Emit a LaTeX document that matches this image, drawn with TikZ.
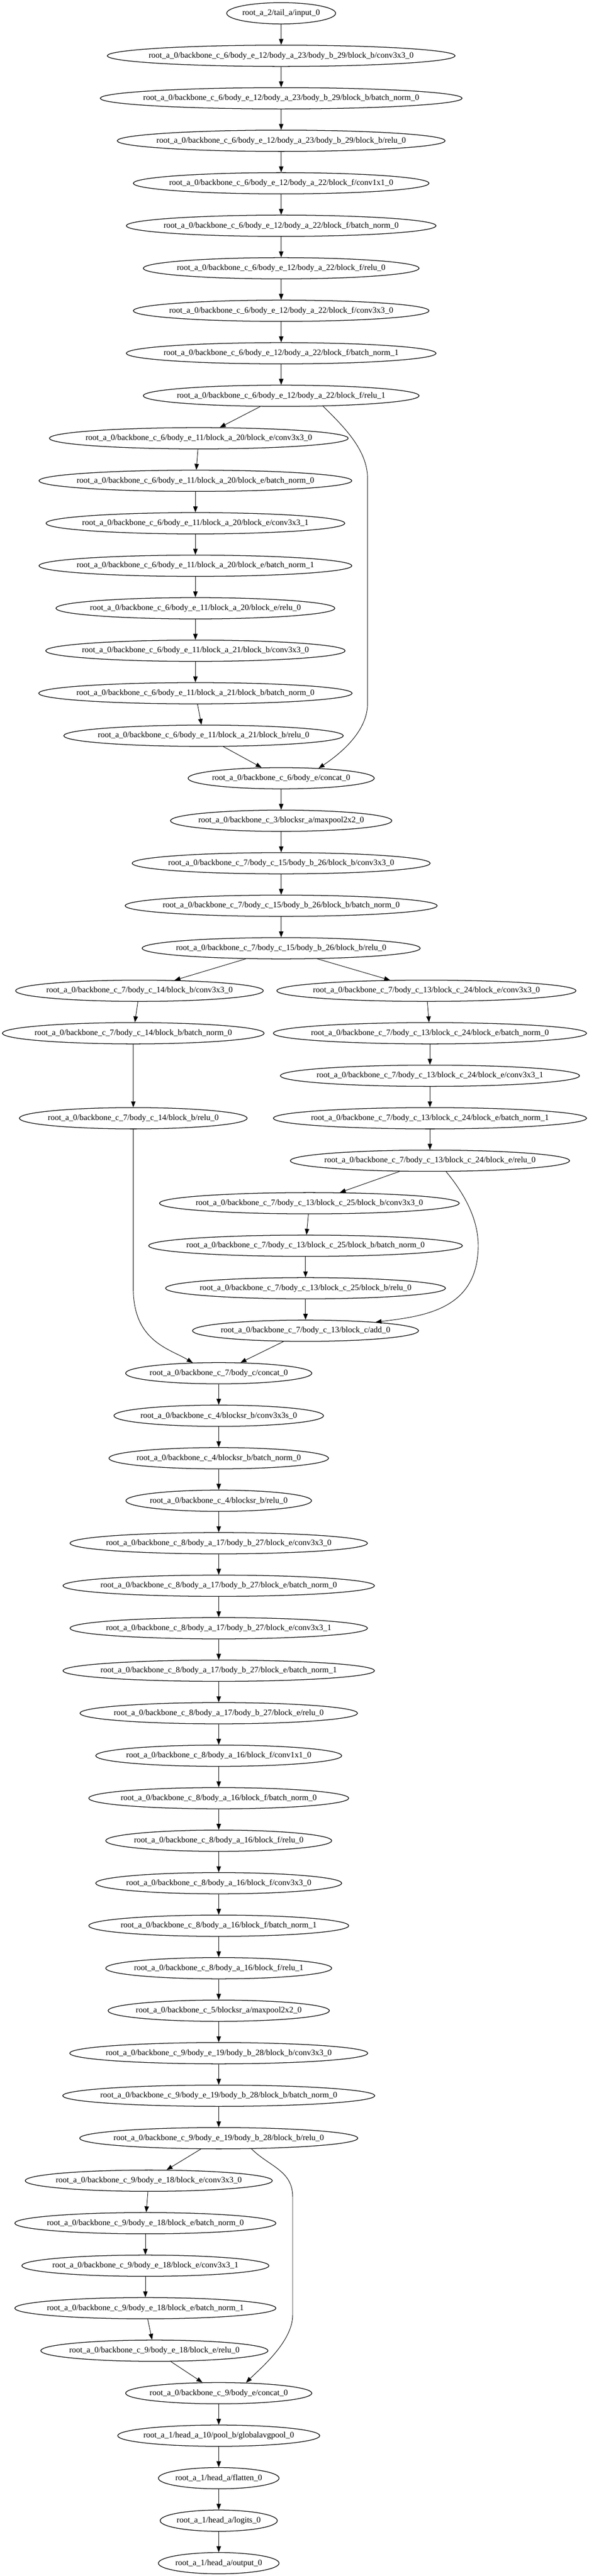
\documentclass[tikz,border=0pt]{standalone}
\usepackage{fontspec}
\setmainfont{Liberation Serif}
\usetikzlibrary{shapes.geometric,arrows.meta,positioning}
\newcommand{\opfont}{\fontsize{14pt}{16.8pt}\selectfont}
% ellipse as wide as graphviz makes it for the label
\newcommand{\opnode}[3][]{%
  \node (#2) [op,#1] {\makebox[0.9016\width]{#3}};}
\begin{document}
\begin{tikzpicture}[node distance=72pt,>={Triangle[length=10pt,width=7.5pt]},line width=0.8pt]
	\tikzstyle{op} = [draw,ellipse,font=\opfont,minimum height=36pt,inner xsep=6pt,line width=1.1pt]
	\useasboundingbox (0,0) rectangle (997.5pt,-4364.25pt);
	\opnode[at={(476.25pt,-22.5pt)}]{input}{root\_a\_2/tail\_a/input\_0}
	\opnode[below of=input]{bConv}{root\_a\_0/backbone\_c\_6/body\_e\_12/body\_a\_23/body\_b\_29/block\_b/conv3x3\_0}
	\opnode[below of=bConv]{bBn}{root\_a\_0/backbone\_c\_6/body\_e\_12/body\_a\_23/body\_b\_29/block\_b/batch\_norm\_0}
	\opnode[below of=bBn]{bRelu}{root\_a\_0/backbone\_c\_6/body\_e\_12/body\_a\_23/body\_b\_29/block\_b/relu\_0}
	\opnode[below of=bRelu]{fConv1}{root\_a\_0/backbone\_c\_6/body\_e\_12/body\_a\_22/block\_f/conv1x1\_0}
	\opnode[below of=fConv1]{fBn0}{root\_a\_0/backbone\_c\_6/body\_e\_12/body\_a\_22/block\_f/batch\_norm\_0}
	\opnode[below of=fBn0]{fRelu0}{root\_a\_0/backbone\_c\_6/body\_e\_12/body\_a\_22/block\_f/relu\_0}
	\opnode[below of=fRelu0]{fConv3}{root\_a\_0/backbone\_c\_6/body\_e\_12/body\_a\_22/block\_f/conv3x3\_0}
	\opnode[below of=fConv3]{fBn1}{root\_a\_0/backbone\_c\_6/body\_e\_12/body\_a\_22/block\_f/batch\_norm\_1}
	\opnode[below of=fBn1]{fRelu1}{root\_a\_0/backbone\_c\_6/body\_e\_12/body\_a\_22/block\_f/relu\_1}
	\opnode[below of=fRelu1,xshift=-139.5pt]{eConv0}{root\_a\_0/backbone\_c\_6/body\_e\_11/block\_a\_20/block\_e/conv3x3\_0}
	\opnode[below of=eConv0,xshift=-5.75pt]{eBn0}{root\_a\_0/backbone\_c\_6/body\_e\_11/block\_a\_20/block\_e/batch\_norm\_0}
	\opnode[below of=eBn0]{eConv1}{root\_a\_0/backbone\_c\_6/body\_e\_11/block\_a\_20/block\_e/conv3x3\_1}
	\opnode[below of=eConv1]{eBn1}{root\_a\_0/backbone\_c\_6/body\_e\_11/block\_a\_20/block\_e/batch\_norm\_1}
	\opnode[below of=eBn1]{eRelu}{root\_a\_0/backbone\_c\_6/body\_e\_11/block\_a\_20/block\_e/relu\_0}
	\opnode[below of=eRelu]{kConv}{root\_a\_0/backbone\_c\_6/body\_e\_11/block\_a\_21/block\_b/conv3x3\_0}
	\opnode[below of=kConv]{kBn}{root\_a\_0/backbone\_c\_6/body\_e\_11/block\_a\_21/block\_b/batch\_norm\_0}
	\opnode[below of=kBn,xshift=13.75pt]{kRelu}{root\_a\_0/backbone\_c\_6/body\_e\_11/block\_a\_21/block\_b/relu\_0}
	\opnode[below of=kRelu,xshift=131.5pt]{eConcat}{root\_a\_0/backbone\_c\_6/body\_e/concat\_0}
	\opnode[below of=eConcat]{poolA}{root\_a\_0/backbone\_c\_3/blocksr\_a/maxpool2x2\_0}
	\opnode[below of=poolA]{sConv}{root\_a\_0/backbone\_c\_7/body\_c\_15/body\_b\_26/block\_b/conv3x3\_0}
	\opnode[below of=sConv]{sBn}{root\_a\_0/backbone\_c\_7/body\_c\_15/body\_b\_26/block\_b/batch\_norm\_0}
	\opnode[below of=sBn]{sRelu}{root\_a\_0/backbone\_c\_7/body\_c\_15/body\_b\_26/block\_b/relu\_0}
	\opnode[below of=sRelu,xshift=-240pt]{lConv}{root\_a\_0/backbone\_c\_7/body\_c\_14/block\_b/conv3x3\_0}
	\opnode[below of=lConv,xshift=-10.5pt]{lBn}{root\_a\_0/backbone\_c\_7/body\_c\_14/block\_b/batch\_norm\_0}
	\opnode[below of=lBn,node distance=144pt]{lRelu}{root\_a\_0/backbone\_c\_7/body\_c\_14/block\_b/relu\_0}
	\opnode[below of=sRelu,xshift=246pt]{rConv0}{root\_a\_0/backbone\_c\_7/body\_c\_13/block\_c\_24/block\_e/conv3x3\_0}
	\opnode[below of=rConv0,xshift=6pt]{rBn0}{root\_a\_0/backbone\_c\_7/body\_c\_13/block\_c\_24/block\_e/batch\_norm\_0}
	\opnode[below of=rBn0]{rConv1}{root\_a\_0/backbone\_c\_7/body\_c\_13/block\_c\_24/block\_e/conv3x3\_1}
	\opnode[below of=rConv1]{rBn1}{root\_a\_0/backbone\_c\_7/body\_c\_13/block\_c\_24/block\_e/batch\_norm\_1}
	\opnode[below of=rBn1]{rRelu}{root\_a\_0/backbone\_c\_7/body\_c\_13/block\_c\_24/block\_e/relu\_0}
	\opnode[below of=rRelu,xshift=-204.25pt]{qConv}{root\_a\_0/backbone\_c\_7/body\_c\_13/block\_c\_25/block\_b/conv3x3\_0}
	\opnode[below of=qConv,xshift=-6.5pt]{qBn}{root\_a\_0/backbone\_c\_7/body\_c\_13/block\_c\_25/block\_b/batch\_norm\_0}
	\opnode[below of=qBn]{qRelu}{root\_a\_0/backbone\_c\_7/body\_c\_13/block\_c\_25/block\_b/relu\_0}
	\opnode[below of=qRelu]{addC}{root\_a\_0/backbone\_c\_7/body\_c\_13/block\_c/add\_0}
	\opnode[below of=addC,xshift=-147pt]{cConcat}{root\_a\_0/backbone\_c\_7/body\_c/concat\_0}
	\opnode[below of=cConcat]{srConv}{root\_a\_0/backbone\_c\_4/blocksr\_b/conv3x3s\_0}
	\opnode[below of=srConv]{srBn}{root\_a\_0/backbone\_c\_4/blocksr\_b/batch\_norm\_0}
	\opnode[below of=srBn]{srRelu}{root\_a\_0/backbone\_c\_4/blocksr\_b/relu\_0}
	\opnode[below of=srRelu]{gConv0}{root\_a\_0/backbone\_c\_8/body\_a\_17/body\_b\_27/block\_e/conv3x3\_0}
	\opnode[below of=gConv0]{gBn0}{root\_a\_0/backbone\_c\_8/body\_a\_17/body\_b\_27/block\_e/batch\_norm\_0}
	\opnode[below of=gBn0]{gConv1}{root\_a\_0/backbone\_c\_8/body\_a\_17/body\_b\_27/block\_e/conv3x3\_1}
	\opnode[below of=gConv1]{gBn1}{root\_a\_0/backbone\_c\_8/body\_a\_17/body\_b\_27/block\_e/batch\_norm\_1}
	\opnode[below of=gBn1]{gRelu}{root\_a\_0/backbone\_c\_8/body\_a\_17/body\_b\_27/block\_e/relu\_0}
	\opnode[below of=gRelu]{hConv1}{root\_a\_0/backbone\_c\_8/body\_a\_16/block\_f/conv1x1\_0}
	\opnode[below of=hConv1]{hBn0}{root\_a\_0/backbone\_c\_8/body\_a\_16/block\_f/batch\_norm\_0}
	\opnode[below of=hBn0]{hRelu0}{root\_a\_0/backbone\_c\_8/body\_a\_16/block\_f/relu\_0}
	\opnode[below of=hRelu0]{hConv3}{root\_a\_0/backbone\_c\_8/body\_a\_16/block\_f/conv3x3\_0}
	\opnode[below of=hConv3]{hBn1}{root\_a\_0/backbone\_c\_8/body\_a\_16/block\_f/batch\_norm\_1}
	\opnode[below of=hBn1]{hRelu1}{root\_a\_0/backbone\_c\_8/body\_a\_16/block\_f/relu\_1}
	\opnode[below of=hRelu1]{poolB}{root\_a\_0/backbone\_c\_5/blocksr\_a/maxpool2x2\_0}
	\opnode[below of=poolB]{dConv}{root\_a\_0/backbone\_c\_9/body\_e\_19/body\_b\_28/block\_b/conv3x3\_0}
	\opnode[below of=dConv]{dBn}{root\_a\_0/backbone\_c\_9/body\_e\_19/body\_b\_28/block\_b/batch\_norm\_0}
	\opnode[below of=dBn]{dRelu}{root\_a\_0/backbone\_c\_9/body\_e\_19/body\_b\_28/block\_b/relu\_0}
	\opnode[below of=dRelu,xshift=-118.5pt]{tConv0}{root\_a\_0/backbone\_c\_9/body\_e\_18/block\_e/conv3x3\_0}
	\opnode[below of=tConv0,xshift=-5.75pt]{tBn0}{root\_a\_0/backbone\_c\_9/body\_e\_18/block\_e/batch\_norm\_0}
	\opnode[below of=tBn0]{tConv1}{root\_a\_0/backbone\_c\_9/body\_e\_18/block\_e/conv3x3\_1}
	\opnode[below of=tConv1]{tBn1}{root\_a\_0/backbone\_c\_9/body\_e\_18/block\_e/batch\_norm\_1}
	\opnode[below of=tBn1,xshift=15.25pt]{tRelu}{root\_a\_0/backbone\_c\_9/body\_e\_18/block\_e/relu\_0}
	\opnode[below of=tRelu,xshift=109pt]{dConcat}{root\_a\_0/backbone\_c\_9/body\_e/concat\_0}
	\opnode[below of=dConcat]{gap}{root\_a\_1/head\_a\_10/pool\_b/globalavgpool\_0}
	\opnode[below of=gap]{flatten}{root\_a\_1/head\_a/flatten\_0}
	\opnode[below of=flatten]{logits}{root\_a\_1/head\_a/logits\_0}
	\opnode[below of=logits]{output}{root\_a\_1/head\_a/output\_0}

	% bends of the skip connections
	\coordinate (skipA1) at (622.5pt,-810pt);
	\coordinate (skipA2) at (622.5pt,-1192.5pt);
	\coordinate (skipL) at (225.75pt,-2182.5pt);
	\coordinate (skipC) at (810pt,-2110pt);
	\coordinate (skipD1) at (495.75pt,-3722pt);
	\coordinate (skipD2) at (495.75pt,-3922pt);

	\draw[->] (input) -- (bConv);
	\draw[->] (bConv) -- (bBn);
	\draw[->] (bBn) -- (bRelu);
	\draw[->] (bRelu) -- (fConv1);
	\draw[->] (fConv1) -- (fBn0);
	\draw[->] (fBn0) -- (fRelu0);
	\draw[->] (fRelu0) -- (fConv3);
	\draw[->] (fConv3) -- (fBn1);
	\draw[->] (fBn1) -- (fRelu1);
	\draw[->] (fRelu1) -- (eConv0);
	\draw[->] (fRelu1.-14) .. controls +(30pt,-30pt) and +(0,50pt) .. (skipA1) -- (skipA2) .. controls +(0,-50pt) and +(30pt,20pt) .. (eConcat.15);
	\draw[->] (eConv0) -- (eBn0);
	\draw[->] (eBn0) -- (eConv1);
	\draw[->] (eConv1) -- (eBn1);
	\draw[->] (eBn1) -- (eRelu);
	\draw[->] (eRelu) -- (kConv);
	\draw[->] (kConv) -- (kBn);
	\draw[->] (kBn) -- (kRelu);
	\draw[->] (kRelu) -- (eConcat);
	\draw[->] (eConcat) -- (poolA);
	\draw[->] (poolA) -- (sConv);
	\draw[->] (sConv) -- (sBn);
	\draw[->] (sBn) -- (sRelu);
	\draw[->] (sRelu) -- (lConv);
	\draw[->] (sRelu) -- (rConv0);
	\draw[->] (lConv) -- (lBn);
	\draw[->] (lBn) -- (lRelu);
	\draw[->] (lRelu) -- (skipL) .. controls +(0,-90pt) and +(-40pt,24pt) .. (cConcat.158);
	\draw[->] (rConv0) -- (rBn0);
	\draw[->] (rBn0) -- (rConv1);
	\draw[->] (rConv1) -- (rBn1);
	\draw[->] (rBn1) -- (rRelu);
	\draw[->] (rRelu) -- (qConv);
	\draw[->] (rRelu.-34) .. controls +(25pt,-30pt) and +(0,50pt) .. (skipC) .. controls +(0,-110pt) and +(80pt,10pt) .. (addC.7);
	\draw[->] (qConv) -- (qBn);
	\draw[->] (qBn) -- (qRelu);
	\draw[->] (qRelu) -- (addC);
	\draw[->] (addC) -- (cConcat);
	\draw[->] (cConcat) -- (srConv);
	\draw[->] (srConv) -- (srBn);
	\draw[->] (srBn) -- (srRelu);
	\draw[->] (srRelu) -- (gConv0);
	\draw[->] (gConv0) -- (gBn0);
	\draw[->] (gBn0) -- (gConv1);
	\draw[->] (gConv1) -- (gBn1);
	\draw[->] (gBn1) -- (gRelu);
	\draw[->] (gRelu) -- (hConv1);
	\draw[->] (hConv1) -- (hBn0);
	\draw[->] (hBn0) -- (hRelu0);
	\draw[->] (hRelu0) -- (hConv3);
	\draw[->] (hConv3) -- (hBn1);
	\draw[->] (hBn1) -- (hRelu1);
	\draw[->] (hRelu1) -- (poolB);
	\draw[->] (poolB) -- (dConv);
	\draw[->] (dConv) -- (dBn);
	\draw[->] (dBn) -- (dRelu);
	\draw[->] (dRelu) -- (tConv0);
	\draw[->] (dRelu.-18) .. controls +(30pt,-30pt) and +(0,45pt) .. (skipD1) -- (skipD2) .. controls +(0,-45pt) and +(25pt,25pt) .. (dConcat.21);
	\draw[->] (tConv0) -- (tBn0);
	\draw[->] (tBn0) -- (tConv1);
	\draw[->] (tConv1) -- (tBn1);
	\draw[->] (tBn1) -- (tRelu);
	\draw[->] (tRelu) -- (dConcat);
	\draw[->] (dConcat) -- (gap);
	\draw[->] (gap) -- (flatten);
	\draw[->] (flatten) -- (logits);
	\draw[->] (logits) -- (output);
\end{tikzpicture}
\end{document}
